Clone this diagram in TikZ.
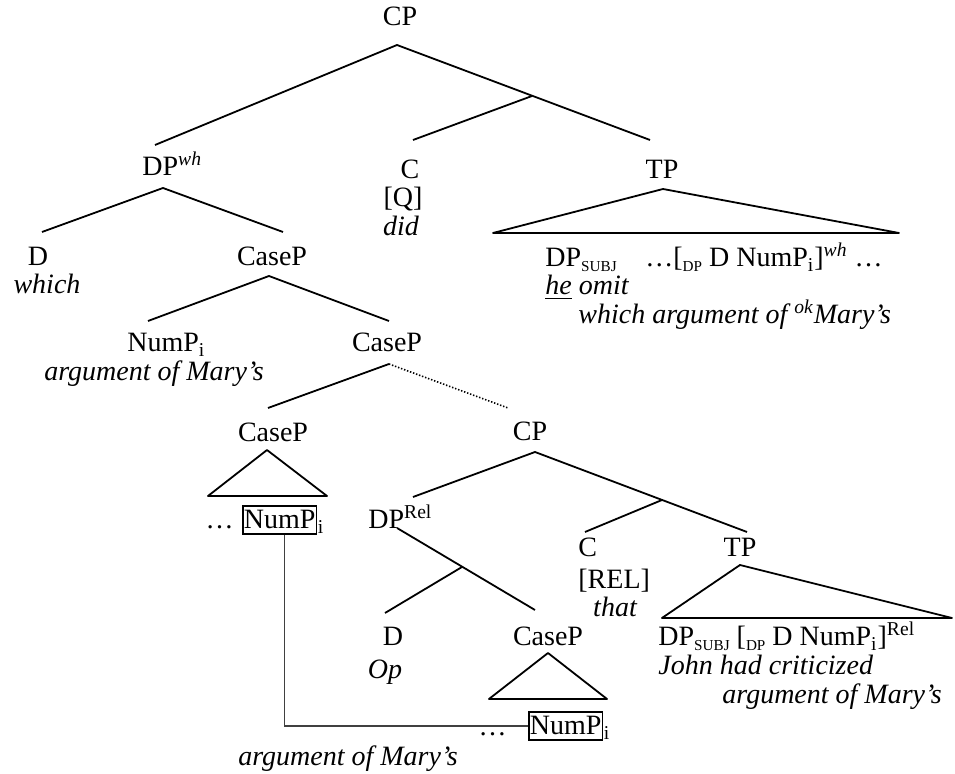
\documentclass[tikz,border=0pt]{standalone}
\usepackage{fontspec}
\setmainfont{Liberation Serif}
\usepackage{tikz}

\newcommand\smsub[1]{\raisebox{-.35ex}{\fontsize{7.6}{8}\selectfont #1}}

\begin{document}
\begin{tikzpicture}[
  x=0.5pt, y=-0.5pt,
  font=\fontsize{14}{14.3}\selectfont,
  lab/.style={inner sep=0pt, anchor=base},
  labw/.style={inner sep=0pt, anchor=base west},
  branch/.style={line width=0.9pt, line join=round},
  numbox/.style={draw, line width=0.75pt, inner xsep=0.6pt, inner ysep=2.4pt, anchor=base west},
  link/.style={line width=0.7pt, black!75},
]
\useasboundingbox (0,0) rectangle (955,774);

% matrix clause
\node[lab] (cp) at (400,26) {CP};
\coordinate (cp-b) at (397,45);
\coordinate (cp-j) at (532,96);
\node[labw] (dpwh) at (142,176) {DP\textsuperscript{\itshape wh}};
\coordinate (dpwh-t) at (155,145);
\coordinate (dpwh-b) at (163,188);
\node[lab] (c) at (410,179) {C};
\node[lab] (cq) at (403,207) {[Q]};
\node[lab] (cdid) at (401,236) {\itshape did};
\coordinate (c-t) at (413,140);
\node[lab] (tp) at (662,179) {TP};
\coordinate (tp-t) at (650,140);
\coordinate (tp-b) at (663,189);
\coordinate (tp-l) at (493,233);
\coordinate (tp-r) at (899,233);
\node[labw] (tp1) at (545,267) {DP\smsub{SUBJ}};
\node[labw] (tp2) at (645,267) {\ldots[\smsub{DP} D NumP\textsubscript{i}]\textsuperscript{\itshape wh} \ldots};
\node[labw] (tp3) at (545,295) {\itshape\underline{he} omit};
\node[labw] (tp4) at (578,324) {\itshape which argument of \textsuperscript{ok}Mary’s};

% wh phrase
\node[lab] (d) at (38,266) {D};
\node[lab] (dwhich) at (47,294) {\itshape which};
\coordinate (d-t) at (42,232);
\node[lab] (case1) at (272,266) {CaseP};
\coordinate (case1-t) at (283,232);
\coordinate (case1-b) at (269,276);
\node[labw] (num) at (127,352) {NumP\textsubscript{i}};
\node[lab] (numarg) at (154,381) {\itshape argument of Mary’s};
\coordinate (num-t) at (148,321);
\node[lab] (case2) at (387,352) {CaseP};
\coordinate (case2-t) at (389,321);
\coordinate (case2-b) at (389,364);

\node[lab] (case3) at (273,442) {CaseP};
\coordinate (case3-t) at (268,408);
\coordinate (case3-b) at (267,450);
\coordinate (case3-l) at (208,496);
\coordinate (case3-r) at (327,496);
\node[numbox] (numA) at (242,529) {NumP};
\node[labw] (numAi) at (numA.base east) {\textsubscript{i}};
\node[lab, anchor=base east] (dotsA) at (234,529) {\ldots};

% relative clause
\node[lab] (cpr) at (530,441) {CP};
\coordinate (cpr-t) at (508,408);
\coordinate (cpr-b) at (535,452);
\coordinate (cpr-j) at (662,500);
\node[labw] (dprel) at (368,529) {DP\textsuperscript{Rel}};
\coordinate (dprel-t) at (413,497);
\coordinate (dprel-b) at (397,528);
\coordinate (dprel-j) at (462,567);
\node[lab] (dop) at (393,646) {D};
\node[lab] (dopw) at (385,679) {\itshape Op};
\coordinate (dop-t) at (385,613);
\node[lab] (case4) at (548,646) {CaseP};
\coordinate (case4-t) at (535,610);
\coordinate (case4-b) at (548,653);
\coordinate (case4-l) at (489,699);
\coordinate (case4-r) at (607,699);
\node[numbox] (numB) at (528,735) {NumP};
\node[labw] (numBi) at (numB.base east) {\textsubscript{i}};
\node[lab, anchor=base east] (dotsB) at (507,736) {\ldots};
\node[labw] (cr) at (578,557) {C};
\node[labw] (crel) at (578,589) {[REL]};
\node[lab] (cthat) at (615,617) {\itshape that};
\coordinate (cr-t) at (585,532);
\node[lab] (tpr) at (740,557) {TP};
\coordinate (tpr-t) at (747,532);
\coordinate (tpr-b) at (740,565);
\coordinate (tpr-l) at (662,618);
\coordinate (tpr-r) at (952,618);
\node[labw] (tpr1) at (658,646) {DP\smsub{SUBJ} [\smsub{DP} D NumP\textsubscript{i}]\textsuperscript{Rel}};
\node[labw] (tpr2) at (658,675) {\itshape John had criticized};
\node[labw] (tpr3) at (722,704) {\itshape argument of Mary’s};
\node[lab] (argB) at (348,766) {\itshape argument of Mary’s};

% branches
\draw[branch] (dpwh-t) -- (cp-b) -- (tp-t);
\draw[branch] (cp-j) -- (c-t);
\draw[branch] (tp-b) -- (tp-r) -- (tp-l) -- cycle;
\draw[branch] (d-t) -- (dpwh-b) -- (case1-t);
\draw[branch] (num-t) -- (case1-b) -- (case2-t);
\draw[branch] (case3-t) -- (case2-b);
\draw[branch, line width=0.8pt, dash pattern=on 0.7pt off 0.9pt] (case2-b) -- (cpr-t);
\draw[branch] (case3-b) -- (case3-r) -- (case3-l) -- cycle;
\draw[branch] (dprel-t) -- (cpr-b) -- (tpr-t);
\draw[branch] (cpr-j) -- (cr-t);
\draw[branch] (dprel-b) -- (case4-t);
\draw[branch] (dprel-j) -- (dop-t);
\draw[branch] (case4-b) -- (case4-r) -- (case4-l) -- cycle;
\draw[branch] (tpr-b) -- (tpr-r) -- (tpr-l) -- cycle;
\draw[link] ([xshift=2.5pt]numA.south) |- (numB.west);
\end{tikzpicture}
\end{document}
